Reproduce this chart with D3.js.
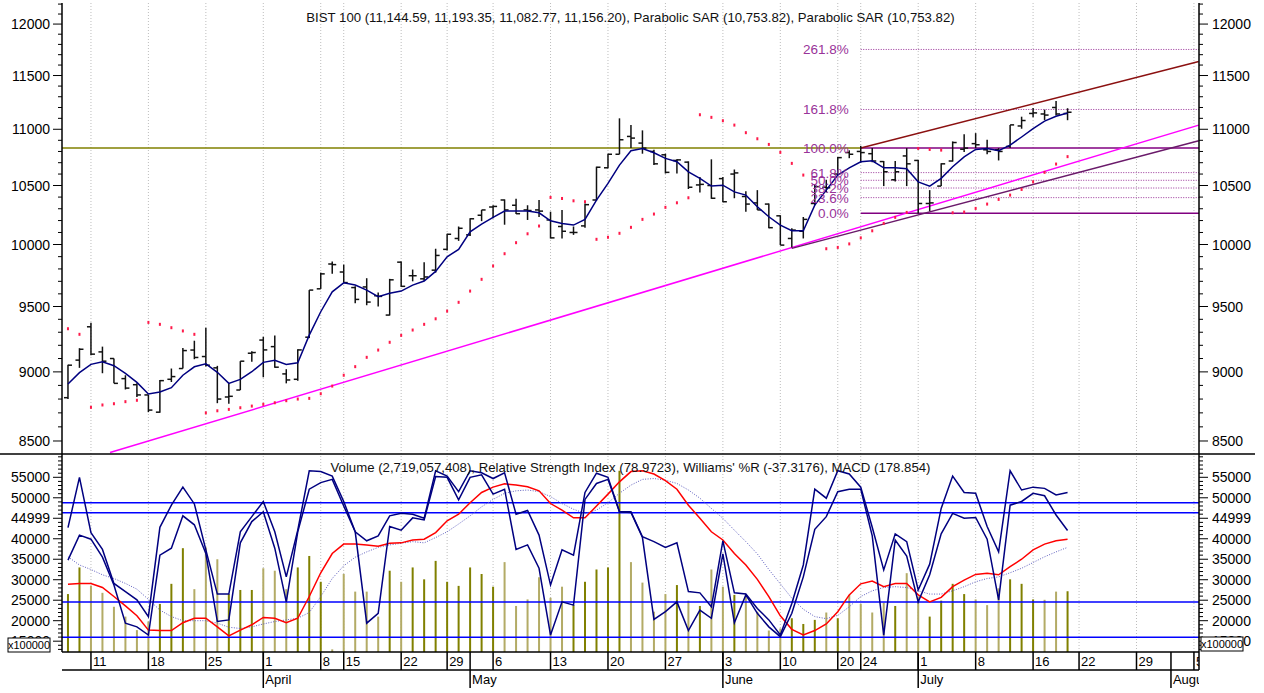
<!DOCTYPE html>
<html>
<head>
<meta charset="utf-8">
<script src="https://cdn.jsdelivr.net/npm/d3@7"></script>
<style>
  body { margin: 0; background: #fff; }
  svg { display: block; font-family: "Liberation Sans", Arial, sans-serif; }
</style>
</head>
<body>
<div id="chart"></div>
<script>
// BIST 100 daily bars, 7 Mar 2024 .. 19 Jul 2024 (index 0 = 7 Mar)
const openP  = [8810,9088,9342,9150,9100,8950,8905,8830,8705,8945, 9025,9164,9115,9030,8815,8866,9140,9240,9190,8985,
                8945,9262,9640,9840,9775,9650,9655,9585,9433,9855, 9745,9720,9790,9960,10050,10080,10245,10315,10375,10330,
                10290,10290,10205,10150,10100,10155,10375,10655,10775,10935, 10875,10800,10770,10720,10705,10505,10500,10560,10600,10405,
                10350,10340,10240,10050,10110,10345,10485,10600,10790,10800, 10780,10710,10550,10760,10720,10345,10495,10715,10820,10870,
                10815,10815,10845,11030,11145,11140,11200,11144.59];
const highP  = [9054,9178,9373,9190,9100,8975,8915,8830,8940,9025, 9180,9235,9335,9045,8915,9080,9155,9265,9275,9020,
                9170,9630,9770,9860,9835,9660,9725,9610,9720,9860, 9795,9855,9965,10090,10150,10220,10290,10330,10380,10385,
                10330,10375,10275,10290,10150,10345,10665,10780,11100,11040, 10990,10815,10780,10730,10712,10575,10730,10575,10640,10450,
                10460,10345,10245,10135,10230,10510,10550,10750,10810,10850, 10830,10715,10715,10830,10725,10460,10695,10890,10955,10965,
                10905,10830,11040,11115,11195,11180,11260,11193.35];
const lowP   = [8800,9030,9125,8990,8915,8870,8815,8705,8700,8925, 9025,9095,9040,8770,8765,8866,9075,8960,9030,8915,
                8935,9255,9640,9760,9690,9525,9510,9500,9430,9655, 9700,9705,9770,9950,10030,10070,10195,10220,10165,10255,
                10205,10230,10050,10050,10080,10140,10370,10650,10775,10830, 10780,10680,10605,10605,10470,10440,10385,10355,10390,10275,
                10290,10135,9995,9975,10050,10330,10440,10590,10740,10700, 10705,10495,10535,10495,10260,10280,10495,10710,10795,10830,
                10775,10720,10830,11005,11110,11085,11125,11082.77];
const closeP = [9050,9170,9133,9080,8915,8880,8830,8720,8935,8965, 9160,9108,9050,8800,8820,9080,9145,9165,9035,8940,
                9165,9630,9760,9835,9690,9556,9535,9580,9712,9660, 9745,9735,9910,10085,10135,10215,10290,10320,10290,10258,
                10285,10280,10055,10110,10100,10335,10660,10775,10905,10920, 10830,10690,10615,10725,10485,10510,10390,10360,10610,10340,
                10290,10140,9995,10120,10210,10490,10480,10745,10775,10790, 10715,10620,10620,10690,10345,10350,10690,10880,10830,10860,
                10800,10800,11040,11080,11150,11130,11140,11156.20];
const avgLine = [8910,8994,9056,9075,9046,8989,8922,8837,8851,8883, 8975,9038,9060,8997,8915,8944,9001,9071,9086,9056,
                 9068,9278,9459,9616,9688,9670,9630,9577,9604,9622, 9670,9702,9780,9899,9960,10106,10170,10227,10280,10280,
                 10280,10266,10198,10176,10162,10210,10374,10518,10679,10806, 10827,10788,10738,10708,10620,10562,10495,10503,10445,10417,
                 10317,10232,10162,10114,10114,10331,10460,10591,10655,10708, 10717,10655,10655,10646,10532,10495,10562,10664,10752,10818,
                 10827,10806,10857,10930,11005,11075,11119,11149];
const sarP = [9327,9284,8740,8757,8766,8781,8791,9376,9361,9335, 9310,9284,8700,8715,8725,8737,8749,8762,8773,8788,
              8800,8805,8839,8895,8975,9039,9109,9164,9223,9276, 9317,9361,9404,9464,9533,9622,9716,9824,9924,10015,
              10089,10154,10397,10388,10368,10360,10043,10060,10093,10143, 10210,10255,10312,10351,10394,11133,11109,11078,11038,10969,
              10914,10863,10792,10694,10591,null,9965,9976,10005,10055, 10114,10176,10227,10269,10827,10818,10812,10266,10272,10303,
              10340,10380,10417,10466,10532,10615,10688,10753.82];

// lower panel, in axis units (x100000 for volume)
const volume = [26500,33000,28500,26800,23400,21000,17700,19800,24100,29000, 37700,27700,37900,35000,26500,27500,27500,32800,32200,27700,
                33000,35800,29500,13000,31400,27100,27100,21000,32200,29500, 33000,30100,34600,29500,28500,33000,31400,28300,34300,23600,
                25200,30600,25600,28300,23800,29500,32500,33000,56600,34300, 29300,22200,26500,28700,24900,23600,32500,28300,26300,26500,
                22200,17600,18100,20600,19200,20200,22000,20600,26300,24100, 22000,24400,23600,31600,25900,21000,24900,29000,26500,25200,
                23800,27900,30100,29000,25200,25100,27100,27190];
const oscUpper = [42700,55000,41500,37400,29100,27100,25100,21000,42800,48200, 52600,48500,37300,26500,26500,41700,45400,49100,41700,30700,
                  42100,56600,56400,55300,49100,41700,39500,40700,45600,46200, 46000,45000,56600,55300,51500,56600,56100,54700,56100,46000,
                  46900,40900,28700,37300,36000,51300,56000,55000,46600,46600, 40500,39300,37900,39000,27100,26800,23400,39500,26800,26500,
                  23000,20200,16500,24200,33600,52100,49900,56600,55800,52600, 42800,32400,41200,39300,27500,33800,47400,55300,51300,51100,
                  43000,36800,56600,51900,52600,52300,50700,51300];
const oscLower = [34800,40900,39900,35500,28700,19400,18500,16500,36000,37700, 45600,43400,36400,19800,20200,39000,44200,46600,37700,24600,
                  41700,52100,53700,54500,48000,41700,19400,21800,43000,42100, 45100,44600,55200,55000,49500,55000,55600,50900,52100,37400,
                  38500,32800,16500,24600,23800,49600,53500,54500,46600,46400, 40300,20300,22200,24600,17600,22600,20600,36300,19500,26300,
                  21800,18500,16100,21800,30700,42300,45400,51500,52100,52100, 40700,16500,39700,35800,24600,31200,41200,46200,45000,45200,
                  39900,25100,48200,49100,51100,50500,45800,42000];
const macdLine = [28900,29100,29100,28100,25900,23600,21200,17700,17600,17600, 19500,20600,20600,18500,16300,17700,19000,20800,20600,19500,
                  20600,25900,31700,36400,38700,38700,38500,38200,38900,39000, 39700,39900,41500,44400,46000,48800,51300,52600,53400,53100,
                  52700,51700,48600,47000,45100,45100,48000,50900,53900,56400, 56600,55800,54200,52100,48200,45000,41700,39700,36400,33600,
                  30100,25900,21200,17900,16500,17600,19200,22200,26300,29000, 29700,28300,29100,29100,26300,24600,25700,28300,29900,31300,
                  31600,31200,33200,35000,37300,38700,39500,39900];
const signalLine = [35600,33600,32500,31200,30300,29100,27700,25200,22600,21000, 20000,20000,20000,19400,18400,18100,18500,19200,19800,20200,
                    20600,22000,25900,30300,33400,35500,36800,37900,38500,38900, 39300,39000,40300,41700,43600,45600,47800,49600,51100,51700,
                    51900,51500,50300,48600,47200,46200,47000,48800,51100,53100, 54500,54700,54300,53500,51900,49900,47400,45000,42100,39300,
                    36300,32500,29000,25500,22800,21000,20500,21300,23400,25900, 27300,28100,28300,28100,27300,26500,26500,27300,28300,29500,
                    30300,30700,31700,32800,34200,35600,36800,37900];
const levelLines = [48800, 46360, 24560, 15950];

// date axis
const weekIdx    = [2, 7, 12, 17, 22, 24, 29, 33, 37, 42, 47, 52, 57, 62, 67, 69, 74, 79, 84, 88, 93, 98];
const weekLabels = ["11","18","25","1","8","15","22","29","6","13","20","27","3","10","20","24","1","8","16","22","29","5"];
const monthIdx    = [17, 35, 57, 74, 96];
const monthLabels = ["April", "May", "June", "July", "August"];

// fibonacci retracement and trend lines
const fibLow = 10261, fibHigh = 10830, fibStartIdx = 69;
const fibLevels = [0, 23.6, 38.2, 50, 61.8, 100, 161.8, 261.8];
const trendFrom = [[3.66, 8419], [69, 10830], [63, 9968]];
const trendTo   = [[98.42, 11038], [98.42, 11635], [98.42, 10896]];
const trendColors = ["#ff00ff", "#8b1010", "#6a1a6a"];

const titleTop = "BIST 100 (11,144.59, 11,193.35, 11,082.77, 11,156.20), Parabolic SAR (10,753.82), Parabolic SAR (10,753.82)";
const titleBot = "Volume (2,719,057,408), Relative Strength Index (78.9723), Williams' %R (-37.3176), MACD (178.854)";

const W = 1264, H = 693;
const plotL = 62, plotR = 1199, priceTop = 3, priceBot = 454, oscBot = 652, weekRow = 670, monthRow = 688;

const x = d3.scaleLinear().domain([-0.52, 98.44]).range([plotL, plotR]);
const yP = d3.scaleLog().domain([8409, 12211]).range([priceBot, priceTop]);
const yV = d3.scaleLinear().domain([12360, 60690]).range([oscBot, priceBot]);
const idx = d3.range(openP.length);

const svg = d3.select("#chart").append("svg").attr("width", W).attr("height", H);
const defs = svg.append("defs");
defs.append("clipPath").attr("id", "clipTop").append("rect")
    .attr("x", plotL).attr("y", priceTop).attr("width", plotR - plotL).attr("height", priceBot - priceTop);
defs.append("clipPath").attr("id", "clipBot").append("rect")
    .attr("x", plotL).attr("y", priceBot).attr("width", plotR - plotL).attr("height", oscBot - priceBot);
defs.append("clipPath").attr("id", "clipAxis").append("rect")
    .attr("x", plotL).attr("y", oscBot).attr("width", plotR - plotL).attr("height", H - oscBot);

// vertical grid
svg.append("g").selectAll("line").data(weekIdx).join("line")
    .attr("x1", d => x(d)).attr("x2", d => x(d))
    .attr("y1", priceTop).attr("y2", oscBot)
    .attr("stroke", "#bdbdbd").attr("stroke-dasharray", "1,2");

// ---------- price panel ----------
const priceG = svg.append("g").attr("clip-path", "url(#clipTop)");

priceG.append("line")
    .attr("x1", plotL).attr("x2", x(fibStartIdx))
    .attr("y1", yP(fibHigh)).attr("y2", yP(fibHigh))
    .attr("stroke", "#808000").attr("stroke-width", 1.5);

const fibVal = l => fibLow + (fibHigh - fibLow) * l / 100;
priceG.append("g").selectAll("line").data(fibLevels).join("line")
    .attr("x1", x(fibStartIdx)).attr("x2", plotR)
    .attr("y1", d => yP(fibVal(d))).attr("y2", d => yP(fibVal(d)))
    .attr("stroke", d => (d === 0 || d === 100) ? "#800080" : "#993399")
    .attr("stroke-width", d => (d === 0 || d === 100) ? 1.5 : 1)
    .attr("stroke-dasharray", d => (d === 0 || d === 100) ? null : "1,1.5");

priceG.append("g").selectAll("line").data(trendFrom).join("line")
    .attr("x1", d => x(d[0])).attr("y1", d => yP(d[1]))
    .attr("x2", (d, i) => x(trendTo[i][0])).attr("y2", (d, i) => yP(trendTo[i][1]))
    .attr("stroke", (d, i) => trendColors[i]).attr("stroke-width", 1.5);

priceG.append("g").selectAll("rect").data(idx.filter(i => sarP[i] != null)).join("rect")
    .attr("x", i => x(i) - 1).attr("y", i => yP(sarP[i]) - 1.5)
    .attr("width", 2).attr("height", 3).attr("fill", "#ff1a4a");

const bars = priceG.append("g").attr("stroke", "#111").attr("stroke-width", 1.5);
bars.selectAll(".hl").data(idx).join("line").attr("class", "hl")
    .attr("x1", i => x(i)).attr("x2", i => x(i))
    .attr("y1", i => yP(highP[i])).attr("y2", i => yP(lowP[i]));
bars.selectAll(".op").data(idx).join("line").attr("class", "op")
    .attr("x1", i => x(i) - 4).attr("x2", i => x(i))
    .attr("y1", i => yP(openP[i])).attr("y2", i => yP(openP[i]));
bars.selectAll(".cl").data(idx).join("line").attr("class", "cl")
    .attr("x1", i => x(i)).attr("x2", i => x(i) + 4)
    .attr("y1", i => yP(closeP[i])).attr("y2", i => yP(closeP[i]));

priceG.append("path").datum(idx)
    .attr("fill", "none").attr("stroke", "#000080").attr("stroke-width", 1.5)
    .attr("d", d3.line().x(i => x(i)).y(i => yP(avgLine[i])));

svg.append("g").selectAll("text").data(fibLevels).join("text")
    .attr("x", x(fibStartIdx) - 12).attr("y", d => yP(fibVal(d)) + 5)
    .attr("text-anchor", "end").attr("font-size", 13.5).attr("fill", "#993399")
    .text(d => d.toFixed(1) + "%");

svg.append("text").attr("x", (plotL + plotR) / 2).attr("y", 22)
    .attr("text-anchor", "middle").attr("font-size", 13.2).attr("fill", "#111")
    .text(titleTop);

// ---------- lower panel ----------
const oscG = svg.append("g").attr("clip-path", "url(#clipBot)");

oscG.append("g").selectAll("rect").data(idx).join("rect")
    .attr("x", i => x(i) - 1).attr("width", 2)
    .attr("y", i => yV(volume[i])).attr("height", i => oscBot - yV(volume[i]))
    .attr("fill", i => closeP[i] >= openP[i] ? "#808000" : "#b3ab66");

oscG.append("g").selectAll("line").data(levelLines).join("line")
    .attr("x1", plotL).attr("x2", plotR)
    .attr("y1", d => yV(d)).attr("y2", d => yV(d))
    .attr("stroke", "#0000ff").attr("stroke-width", 1.5);

const oscLine = arr => d3.line().x(i => x(i)).y(i => yV(arr[i]));
oscG.append("path").datum(idx).attr("fill", "none").attr("stroke", "#6060c0")
    .attr("stroke-width", 1).attr("stroke-dasharray", "1,1.5")
    .attr("d", oscLine(signalLine));
oscG.append("path").datum(idx).attr("fill", "none").attr("stroke", "#ff0000")
    .attr("stroke-width", 1.5).attr("d", oscLine(macdLine));
[oscUpper, oscLower].forEach(arr => {
    oscG.append("path").datum(idx).attr("fill", "none").attr("stroke", "#000080")
        .attr("stroke-width", 1.5).attr("d", oscLine(arr));
});

svg.append("text").attr("x", (plotL + plotR) / 2).attr("y", 472)
    .attr("text-anchor", "middle").attr("font-size", 13.2).attr("fill", "#111")
    .text(titleBot);

// ---------- axes ----------
const frame = svg.append("g").attr("stroke", "#000").attr("stroke-width", 1.5);
frame.append("line").attr("x1", 0).attr("x2", 1255).attr("y1", priceBot).attr("y2", priceBot);
frame.append("line").attr("x1", plotL).attr("x2", plotR).attr("y1", oscBot).attr("y2", oscBot);
frame.append("line").attr("x1", plotL).attr("x2", plotR).attr("y1", weekRow).attr("y2", weekRow);
frame.append("line").attr("x1", plotL).attr("x2", plotL).attr("y1", priceTop).attr("y2", oscBot);
frame.append("line").attr("x1", plotR).attr("x2", plotR).attr("y1", priceTop).attr("y2", weekRow);

function yTicks(scale, minor, major, fmt) {
    [[plotL, -1], [plotR, 1]].forEach(([ax, dir]) => {
        const g = svg.append("g").attr("stroke", "#000");
        g.selectAll("line").data(minor).join("line")
            .attr("x1", ax).attr("x2", d => ax + dir * (major.includes(d) ? 9 : 4))
            .attr("y1", d => scale(d)).attr("y2", d => scale(d));
        svg.append("g").selectAll("text").data(major).join("text")
            .attr("x", dir < 0 ? ax - 12 : ax + 13).attr("y", d => scale(d) + 5)
            .attr("text-anchor", dir < 0 ? "end" : "start")
            .attr("font-size", 14).attr("fill", "#000").text(fmt);
    });
}
yTicks(yP, d3.range(8500, 12201, 100), d3.range(8500, 12001, 500), d => d);
yTicks(yV, d3.range(13000, 60001, 1000), d3.range(15000, 55001, 5000), d => d === 45000 ? "44999" : d);

[[8, 638], [1201, 637]].forEach(([bx, by]) => {
    svg.append("rect").attr("x", bx).attr("y", by).attr("width", 42).attr("height", 14)
        .attr("fill", "#fff").attr("stroke", "#000").attr("stroke-width", 1);
    svg.append("text").attr("x", bx + 21).attr("y", by + 11).attr("text-anchor", "middle")
        .attr("font-size", 11).attr("fill", "#000").text("x100000");
});

const xa = svg.append("g").attr("clip-path", "url(#clipAxis)");
xa.selectAll(".wt").data(weekIdx).join("line").attr("class", "wt")
    .attr("x1", d => x(d)).attr("x2", d => x(d)).attr("y1", oscBot).attr("y2", weekRow)
    .attr("stroke", "#000").attr("stroke-width", 1.5);
xa.selectAll(".wl").data(weekIdx).join("text").attr("class", "wl")
    .attr("x", d => x(d) + 2).attr("y", 666).attr("font-size", 13).attr("fill", "#000")
    .text((d, i) => weekLabels[i]);
xa.selectAll(".mt").data(monthIdx).join("line").attr("class", "mt")
    .attr("x1", d => x(d)).attr("x2", d => x(d)).attr("y1", oscBot).attr("y2", monthRow)
    .attr("stroke", "#000").attr("stroke-width", 1.5);
xa.selectAll(".ml").data(monthIdx).join("text").attr("class", "ml")
    .attr("x", d => x(d) + 2).attr("y", 684).attr("font-size", 13).attr("fill", "#000")
    .text((d, i) => monthLabels[i]);
</script>
</body>
</html>
